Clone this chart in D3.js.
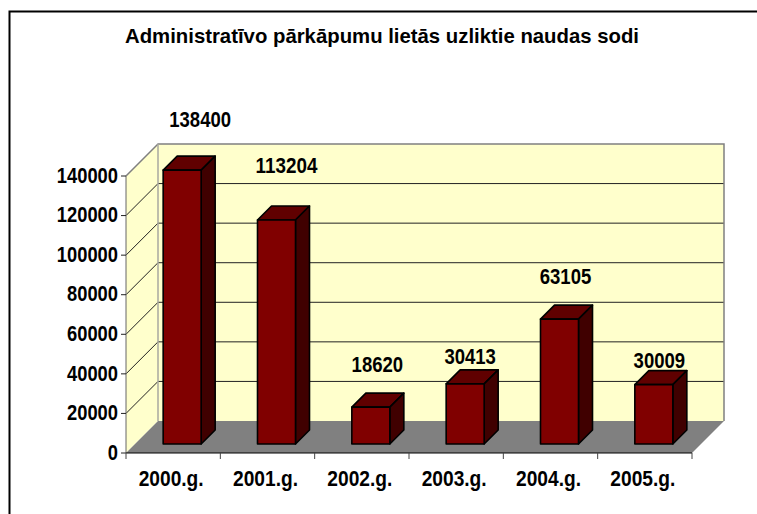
<!DOCTYPE html>
<html><head><meta charset="utf-8"><style>html,body{margin:0;padding:0;background:#fff}svg{display:block}text{font-family:"Liberation Sans",Arial,sans-serif;font-weight:bold;fill:#000}</style>
<script src="https://cdn.jsdelivr.net/npm/d3@7"></script></head><body><div id="c"></div>
<script>
const titleText = "Administratīvo pārkāpumu lietās uzliktie naudas sodi";
const categories = ["2000.g.","2001.g.","2002.g.","2003.g.","2004.g.","2005.g."];
const values = [138400,113204,18620,30413,63105,30009];
const yTicks = [0,20000,40000,60000,80000,100000,120000,140000];
const labelNudgeX = [12,4,0.5,-1,0,-0.5];
const labelNudgeY = [51,55,43,28,43.5,25];

const W=757,H=514,left=126,right=692,y0=453,yTop=176,wall=32,barDepth=14,barInset=9;
const svg=d3.select("#c").append("svg").attr("width",W).attr("height",H);
const x=d3.scaleBand().domain(categories).range([left,right]);
const y=d3.scaleLinear().domain([0,140000]).range([y0,yTop]);
const barW=38;

// frame
svg.append("path").attr("d",`M9.5,${H}V11.5H${W}`).attr("fill","none").attr("stroke","#000").attr("stroke-width",2);

// walls
svg.append("polygon").attr("points",[[left,y0],[left+wall,y0-wall],[left+wall,yTop-wall],[left,yTop]].join(" ")).attr("fill","#ffffcc");
svg.append("rect").attr("x",left+wall).attr("y",yTop-wall).attr("width",right-left).attr("height",y0-yTop).attr("fill","#ffffcc");
svg.append("polygon").attr("points",[[left,y0],[right,y0],[right+wall,y0-wall],[left+wall,y0-wall]].join(" ")).attr("fill","#808080");

// gridlines
yTicks.filter(d=>d>0&&d<140000).forEach(d=>{
  const p=y(d);
  svg.append("path").attr("d",`M${left},${p}L${left+wall},${p-wall}H${right+wall}`).attr("fill","none").attr("stroke","#222").attr("stroke-width",1);
});
// wall edges
svg.append("path").attr("d",`M${left},${yTop}L${left+wall},${yTop-wall}H${right+wall}V${y0-wall}`).attr("fill","none").attr("stroke","#808080").attr("stroke-width",1.5);
svg.append("path").attr("d",`M${left+wall},${yTop-wall}V${y0-wall}`).attr("fill","none").attr("stroke","#a8a8a0").attr("stroke-width",1.5);

// axes
const gy=svg.append("g").attr("transform",`translate(${left},0)`);
gy.append("line").attr("y1",yTop).attr("y2",y0).attr("stroke","#666");
gy.selectAll("line.t").data(yTicks).join("line").attr("class","t").attr("x1",-5).attr("x2",0).attr("y1",d=>y(d)).attr("y2",d=>y(d)).attr("stroke","#222");
gy.selectAll("text").data(yTicks).join("text").attr("x",-8).attr("y",d=>y(d)-1).attr("dy","0.35em").attr("text-anchor","end").attr("font-size",22).attr("textLength",d=>String(d).length*10.2).attr("lengthAdjust","spacingAndGlyphs").text(d=>d);

const gx=svg.append("g");
gx.append("line").attr("x1",left).attr("x2",right).attr("y1",y0).attr("y2",y0).attr("stroke","#000").attr("stroke-width",1.2);
gx.selectAll("line.t").data(d3.range(categories.length+1)).join("line").attr("class","t")
  .attr("x1",i=>left+i*x.bandwidth()).attr("x2",i=>left+i*x.bandwidth()).attr("y1",y0).attr("y2",y0+6).attr("stroke","#444");
gx.selectAll("text").data(categories).join("text").attr("x",d=>x(d)+x.bandwidth()/2-2).attr("y",486).attr("text-anchor","middle").attr("font-size",22).attr("textLength",65).attr("lengthAdjust","spacingAndGlyphs").text(d=>d);

// bars
const bars=svg.selectAll("g.bar").data(values).join("g").attr("class","bar");
const bx=(d,i)=>x(categories[i])+x.bandwidth()/2-barW/2+barInset;
const by=d=>y(d)-barInset;
const stroke={stroke:"#000","stroke-width":1.6,"stroke-linejoin":"round"};
function st(s){Object.entries(stroke).forEach(([k,v])=>s.attr(k,v));return s;}
st(bars.append("polygon").attr("points",(d,i)=>{const a=bx(d,i),t=by(d);return [[a,t],[a+barDepth,t-barDepth],[a+barW+barDepth,t-barDepth],[a+barW,t]].join(" ")}).attr("fill","#600000"));
st(bars.append("polygon").attr("points",(d,i)=>{const a=bx(d,i)+barW,t=by(d),b=y0-barInset;return [[a,t],[a+barDepth,t-barDepth],[a+barDepth,b-barDepth],[a,b]].join(" ")}).attr("fill","#400000"));
st(bars.append("rect").attr("x",(d,i)=>bx(d,i)).attr("y",d=>by(d)).attr("width",barW).attr("height",d=>y0-y(d)).attr("fill","#800000"));

// value labels
svg.selectAll("text.v").data(values).join("text").attr("class","v")
  .attr("x",(d,i)=>bx(d,i)+barW/2+barDepth/2+labelNudgeX[i]-1).attr("y",(d,i)=>by(d)-labelNudgeY[i]+8)
  .attr("text-anchor","middle").attr("font-size",22).text(d=>d)
  .attr("textLength",d=>String(d).length*10.3).attr("lengthAdjust","spacingAndGlyphs");

svg.append("text").attr("x",382).attr("y",43).attr("text-anchor","middle").attr("font-size",21).attr("textLength",514).attr("lengthAdjust","spacingAndGlyphs").text(titleText);
</script></body></html>
